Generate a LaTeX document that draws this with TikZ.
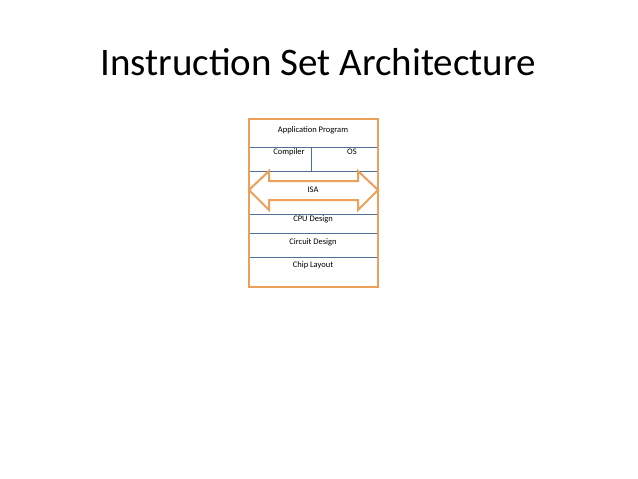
\documentclass[tikz,border=0pt]{standalone}
\usepackage{fontspec}
\setmainfont{Carlito}
\begin{document}
\begin{tikzpicture}[x=1pt,y=-1pt,
  sep/.style={draw={rgb,255:red,80;green,110;blue,150},line width=0.6pt},
  lbl/.style={font=\fontsize{8.5}{10}\selectfont,inner sep=0pt},
  orange/.style={draw={rgb,255:red,237;green,160;blue,90},line width=2pt}]
\useasboundingbox (0,0) rectangle (638,479);
\node[font=\fontsize{39}{44}\selectfont,inner sep=0pt] (title) at (318,62) {Instruction Set Architecture};
\coordinate (a1) at (249,147); \coordinate (b1) at (378,147);
\coordinate (a2) at (249,171); \coordinate (b2) at (378,171);
\coordinate (a3) at (249,214); \coordinate (b3) at (378,214);
\coordinate (a4) at (249,233); \coordinate (b4) at (378,233);
\coordinate (a5) at (249,257); \coordinate (b5) at (378,257);
\coordinate (v1) at (311,147); \coordinate (v2) at (311,171);
\draw[sep] (a1)--(b1) (a2)--(b2) (a3)--(b3) (a4)--(b4) (a5)--(b5) (v1)--(v2);
\draw[orange,fill=white] (249,190)--(269,171)--(269,181)--(358,181)--(358,171)--(378,190)--(358,210)--(358,200)--(269,200)--(269,210)--cycle;
\draw[orange] (249,119) rectangle (378,287);
\node[lbl] (app) at (313,130) {Application Program};
\node[lbl] (comp) at (289,152) {Compiler};
\node[lbl] (os) at (352,152) {OS};
\node[lbl] (isa) at (313,190) {ISA};
\node[lbl] (cpu) at (313,219) {CPU Design};
\node[lbl] (circ) at (313,242) {Circuit Design};
\node[lbl] (chip) at (313,265) {Chip Layout};
\end{tikzpicture}
\end{document}
